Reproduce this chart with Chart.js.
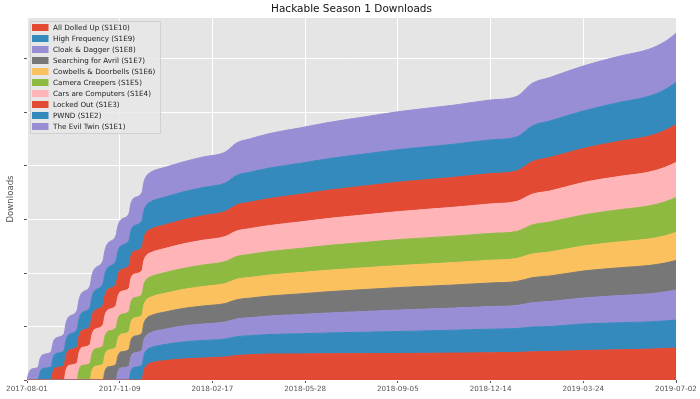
<!DOCTYPE html>
<html>
<head>
<meta charset="utf-8">
<title>Hackable Season 1 Downloads</title>
<script src="https://cdn.jsdelivr.net/npm/chart.js@4.4.0/dist/chart.umd.min.js"></script>
<style>
    html, body { margin: 0; padding: 0; background: #ffffff; }
    canvas { display: block; }
</style>
</head>
<body>
<canvas id="downloadsChart" width="700" height="399"></canvas>
<script>
// days since 2017-08-01 for each sample
const days = [0, 2, 5, 12, 14, 17, 26, 28, 31, 40, 42, 45, 54, 56, 59, 68, 70, 73, 82, 84, 87,
    96, 98, 101, 110, 112, 115, 124, 126, 129, 134, 150, 168, 190, 214, 226, 240, 262, 294, 327,
    365, 402, 460, 500, 528, 545, 564, 600, 640, 670, 688, 700];

const chartTitle = 'Hackable Season 1 Downloads';
const xTickLabels = ['2017-08-01', '2017-11-09', '2018-02-17', '2018-05-28', '2018-09-05', '2018-12-14', '2019-03-24', '2019-07-02'];
const xTickStep = 100;
const xMax = 700;

// bottom of the stack first
const episodes = ['All Dolled Up (S1E10)', 'High Frequency (S1E9)', 'Cloak & Dagger (S1E8)', 'Searching for Avril (S1E7)',
    'Cowbells & Doorbells (S1E6)', 'Camera Creepers (S1E5)', 'Cars are Computers (S1E4)', 'Locked Out (S1E3)',
    'PWND (S1E2)', 'The Evil Twin (S1E1)'];
const colors = ['#E24A33', '#348ABD', '#988ED5', '#777777', '#FBC15E', '#8EBA42', '#FFB5B8', '#E24A33', '#348ABD', '#988ED5'];

// cumulative downloads (unlabelled axis, one grid step = 53.5)
const s1e1 = [0, 7, 11, 13, 13.3, 13.8, 14.8, 15, 15.5, 16.8, 17, 17.6, 19, 19.2, 19.8, 21.3, 21.5, 22, 23.4, 23.6, 24.1,
    25.4, 25.6, 26, 27, 27.2, 27.6, 28.5, 28.6, 28.9, 29.5,
    29.7, 30, 30.5, 31, 32.5, 33.3, 34.5, 35.4, 36.3, 37.1, 38, 39.1, 39.9, 40.5, 42.6, 43.5, 45, 46.2, 47, 48, 49];
const s1e2 = [0, 0, 0, 0, 7.5, 11.5, 13.5, 13.7, 14.1, 15, 15.2, 15.7, 17, 17.2, 17.7, 19.1, 19.3, 19.8, 21.2, 21.4, 21.9,
    23.2, 23.4, 23.9, 25, 25.2, 25.6, 26.6, 26.7, 27, 27.5,
    27.7, 28, 28.2, 28.5, 29.5, 30, 30.5, 31, 31.5, 32, 32.5, 33.1, 33.7, 34, 35.7, 36.5, 37.5, 38.9, 39.8, 40.8, 42];
const s1e3 = [0, 0, 0, 0, 0, 0, 0, 8, 12.3, 14.5, 14.8, 15.3, 16.5, 16.7, 17.1, 18.3, 18.5, 18.9, 19.9, 20.1, 20.5,
    21.4, 21.6, 21.9, 22.5, 22.6, 22.8, 23.2, 23.3, 23.4, 23.5,
    23.7, 24, 24.5, 25, 26, 26.4, 27, 27.6, 28.3, 28.9, 29.5, 29.9, 30.3, 30.5, 32.6, 33.5, 34, 35.2, 36, 37, 38];
const s1e4 = [0, 0, 0, 0, 0, 0, 0, 0, 0, 0, 9.5, 14.5, 17, 17.3, 17.8, 19, 19.2, 19.7, 20.8, 21, 21.4,
    22.3, 22.5, 22.8, 23.3, 23.4, 23.6, 23.8, 23.9, 24, 24,
    24.2, 24.5, 24.8, 25, 25.5, 25.7, 26, 26.5, 27, 27.5, 28, 28.9, 29.5, 30, 30.7, 31, 32.5, 33.3, 33.8, 34.4, 35];
const s1e5 = [0, 0, 0, 0, 0, 0, 0, 0, 0, 0, 0, 0, 0, 9.5, 14.5, 16.5, 16.8, 17.3, 18.3, 18.5, 18.9,
    19.5, 19.6, 19.8, 20.1, 20.2, 20.3, 20.4, 20.4, 20.5, 20.5,
    20.7, 21, 21.5, 22, 22.8, 23.1, 23.5, 24.1, 24.8, 25.4, 26, 26.4, 26.8, 27, 29.1, 30, 31, 32.2, 33, 34, 35];
const s1e6 = [0, 0, 0, 0, 0, 0, 0, 0, 0, 0, 0, 0, 0, 0, 0, 0, 9, 13.5, 16, 16.2, 16.6,
    17.3, 17.4, 17.6, 18, 18.1, 18.2, 18.4, 18.4, 18.5, 18.5,
    18.7, 19, 19.5, 20, 20.5, 20.7, 21, 21.3, 21.5, 21.8, 22, 22.4, 22.8, 23, 23.7, 24, 25, 25.9, 26.5, 27.2, 28];
const s1e7 = [0, 0, 0, 0, 0, 0, 0, 0, 0, 0, 0, 0, 0, 0, 0, 0, 0, 0, 0, 8.5, 13,
    15.5, 15.7, 16, 16.5, 16.6, 16.7, 16.9, 16.9, 17, 17,
    17.2, 17.5, 18, 18.5, 19.2, 19.5, 20, 20.6, 21.3, 21.9, 22.5, 23.1, 23.6, 24, 25, 25.5, 27, 27.8, 28.3, 28.9, 29.5];
const s1e8 = [0, 0, 0, 0, 0, 0, 0, 0, 0, 0, 0, 0, 0, 0, 0, 0, 0, 0, 0, 0, 0,
    0, 8, 12, 14, 14.2, 14.4, 14.8, 14.8, 14.9, 15,
    15.4, 16, 16.5, 17, 17.7, 18, 18.5, 19.3, 20, 20.8, 21.5, 22.1, 22.6, 23, 24.4, 25, 26, 27.2, 28, 29, 30];
const s1e9 = [0, 0, 0, 0, 0, 0, 0, 0, 0, 0, 0, 0, 0, 0, 0, 0, 0, 0, 0, 0, 0,
    0, 0, 0, 0, 8.5, 12.5, 15, 15.1, 15.3, 15.5,
    16.1, 17, 17.5, 18, 18.8, 19.1, 19.5, 20.1, 20.8, 21.4, 22, 22.9, 23.5, 24, 24.7, 25, 26.5, 27, 27.3, 27.6, 28];
const s1e10 = [0, 0, 0, 0, 0, 0, 0, 0, 0, 0, 0, 0, 0, 0, 0, 0, 0, 0, 0, 0, 0,
    0, 0, 0, 0, 0, 0, 0, 9.5, 14.5, 17,
    19.5, 21, 22, 23, 24.5, 25.2, 26, 26.1, 26.3, 26.4, 26.5, 26.9, 27.3, 27.5, 28.2, 28.5, 29.5, 30.3, 30.8, 31.4, 32];

const yGridStep = 53.5;
const yMax = 362;

const series = [s1e10, s1e9, s1e8, s1e7, s1e6, s1e5, s1e4, s1e3, s1e2, s1e1];

document.addEventListener('DOMContentLoaded', function () {
    const ctx = document.getElementById('downloadsChart').getContext('2d');

    const datasets = series.map((values, i) => ({
        label: episodes[i],
        data: values.map((v, j) => ({ x: days[j], y: v })),
        backgroundColor: colors[i],
        borderColor: colors[i],
        borderWidth: 1,
        pointRadius: 0,
        cubicInterpolationMode: 'monotone',
        fill: i === 0 ? 'origin' : '-1'
    }));

    // grey panel behind the plot, like the ggplot style
    const panelBackground = {
        id: 'panelBackground',
        beforeDraw(chart) {
            const c = chart.ctx;
            const a = chart.chartArea;
            c.save();
            c.fillStyle = '#ffffff';
            c.fillRect(0, 0, chart.width, chart.height);
            c.fillStyle = '#E5E5E5';
            c.fillRect(a.left, a.top, a.right - a.left, a.bottom - a.top);
            c.restore();
        }
    };

    // title centred over the plot panel, legend inside the panel top left
    const titleAndLegend = {
        id: 'titleAndLegend',
        afterDraw(chart) {
            const c = chart.ctx;
            const a = chart.chartArea;
            c.save();
            c.fillStyle = '#111111';
            c.font = '10.5px "DejaVu Sans", sans-serif';
            c.textAlign = 'center';
            c.textBaseline = 'middle';
            c.fillText(chartTitle, (a.left + a.right) / 2, 9.5);

            const x0 = a.left + 3;
            const y0 = a.top + 3;
            const rowH = 11;
            c.textAlign = 'left';
            c.fillStyle = 'rgba(232,232,232,0.85)';
            c.strokeStyle = 'rgba(205,205,205,0.9)';
            c.lineWidth = 1;
            c.beginPath();
            c.rect(x0 + 0.5, y0 + 0.5, 130, 112);
            c.fill();
            c.stroke();
            c.font = '7.2px "DejaVu Sans", sans-serif';
            chart.data.datasets.forEach((ds, i) => {
                const cy = y0 + 6.5 + i * rowH;
                c.fillStyle = ds.backgroundColor;
                c.fillRect(x0 + 2, cy - 3.5, 16.5, 7);
                c.fillStyle = '#222222';
                c.fillText(ds.label, x0 + 23, cy + 0.5);
            });
            c.restore();
        }
    };

    new Chart(ctx, {
        type: 'line',
        data: { datasets: datasets },
        options: {
            responsive: false,
            animation: false,
            layout: { padding: { top: 18, right: 24, bottom: 0, left: 0 } },
            plugins: {
                legend: { display: false },
                tooltip: { enabled: false },
                title: { display: false }
            },
            scales: {
                x: {
                    type: 'linear',
                    min: 0,
                    max: xMax,
                    grid: { color: '#ffffff', lineWidth: 1, tickColor: '#555555', tickLength: 3 },
                    border: { display: false },
                    afterFit(scale) { scale.height = 19; },
                    ticks: {
                        stepSize: xTickStep,
                        autoSkip: false,
                        maxRotation: 0,
                        padding: 2,
                        color: '#555555',
                        font: { family: 'DejaVu Sans', size: 7.2 },
                        callback: (v) => xTickLabels[Math.round(v / xTickStep)]
                    }
                },
                y: {
                    stacked: true,
                    min: 0,
                    max: yMax,
                    grid: { color: '#ffffff', lineWidth: 1, tickColor: '#555555', tickLength: 3 },
                    border: { display: false },
                    afterBuildTicks(scale) {
                        scale.ticks = scale.ticks.filter(t => Math.abs(t.value / yGridStep - Math.round(t.value / yGridStep)) < 1e-6);
                    },
                    afterFit(scale) { scale.width = 27; },
                    ticks: { display: false, stepSize: yGridStep },
                    title: {
                        display: true,
                        text: 'Downloads',
                        color: '#555555',
                        font: { family: 'DejaVu Sans', size: 8.6 },
                        padding: { top: 6, bottom: 0 }
                    }
                }
            }
        },
        plugins: [panelBackground, titleAndLegend]
    });
});
</script>
</body>
</html>
